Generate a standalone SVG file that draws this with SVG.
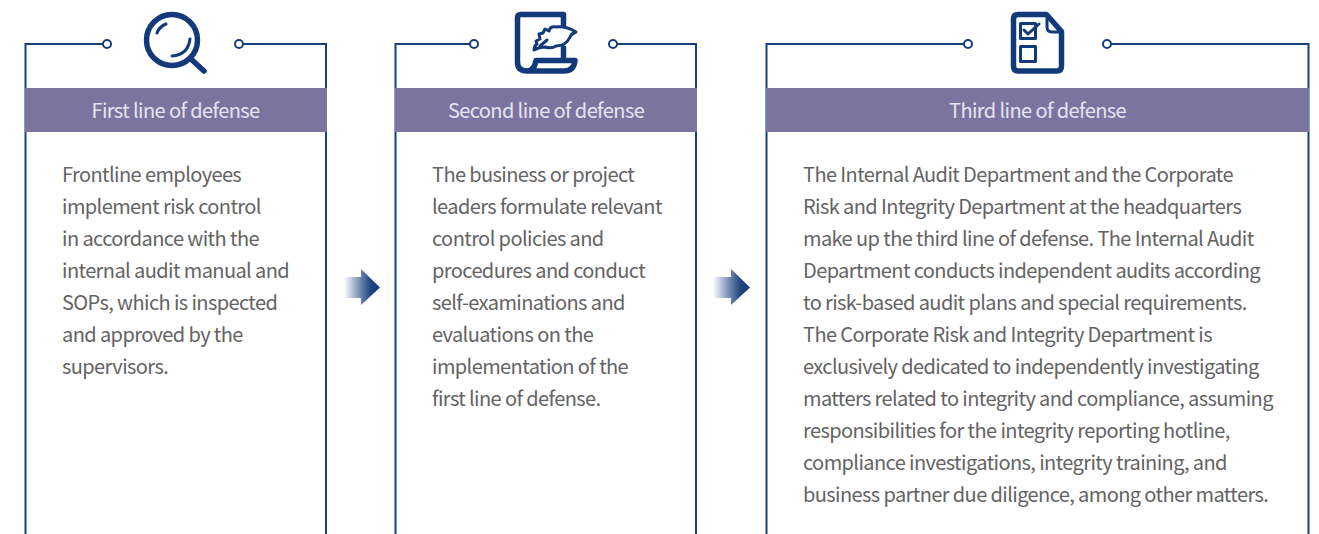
<svg xmlns="http://www.w3.org/2000/svg" width="1319" height="534" viewBox="0 0 1319 534">
<style>
.f{fill:none;stroke:#173e7c;stroke-width:2}
.d{fill:#fff;stroke:#173e7c;stroke-width:2}
.h{fill:#7b749f}
.ht{font:400 20px "Noto Sans CJK SC","Noto Sans",sans-serif;fill:#e6e4ef;text-anchor:middle;letter-spacing:-.6px}
.b{font:400 20px "Noto Sans CJK SC","Noto Sans",sans-serif;fill:#636363;letter-spacing:-.6px}
.i{fill:none;stroke:#123a7a;stroke-width:5.500;stroke-linecap:round;stroke-linejoin:round}
.i2{fill:none;stroke:#123a7a;stroke-width:3;stroke-linecap:round;stroke-linejoin:round}
</style>
<defs>
<linearGradient id="g" x1="0" x2="1" y1="0" y2="0"><stop offset="0" stop-color="#123a7a" stop-opacity="0"/><stop offset=".45" stop-color="#123a7a" stop-opacity=".6"/><stop offset=".75" stop-color="#123a7a" stop-opacity=".95"/><stop offset="1" stop-color="#123a7a"/></linearGradient>
</defs>
<g id="node-first">
<path class="f" d="M105 44H25.500V534M241 44H326V534"/>
<circle class="d" cx="107" cy="44" r="4"/><circle class="d" cx="239" cy="44" r="4"/>
<rect class="h" x="25" y="88" width="302" height="44"/>
<text class="ht" x="175.500" y="118">First line of defense</text>
<g class="icon">
<circle class="i" cx="172" cy="40" r="25.500"/>
<path class="i" d="M192 60L204 71"/>
<path class="i2" d="M157 33Q159 27 166 24M172 56Q188 55 190 39"/>
</g>
<text class="b" x="62" y="182">Frontline employees</text>
<text class="b" x="62" y="214">implement risk control</text>
<text class="b" x="62" y="246">in accordance with the</text>
<text class="b" x="62" y="278">internal audit manual and</text>
<text class="b" x="62" y="310">SOPs, which is inspected</text>
<text class="b" x="62" y="342">and approved by the</text>
<text class="b" x="62" y="374">supervisors.</text>
</g>
<g id="node-second">
<path class="f" d="M472 44H395.500V534M615 44H696V534"/>
<circle class="d" cx="474" cy="44" r="4"/><circle class="d" cx="613" cy="44" r="4"/>
<rect class="h" x="395" y="88" width="302" height="44"/>
<text class="ht" x="546" y="118">Second line of defense</text>
<g class="icon">
<path class="i" d="M563.500 31V14.500H521Q517.500 14.500 517.500 18V62Q517.500 71 527 71H564Q574 71 575 60.500H536Q534 71 527 71M563.500 48V60"/>
<path d="M534 50Q534 46 537 44L536 41L540 39L539 34L543 33L545 29L549 31Q550 26 556 27Q566 26 576 32Q571 34 570 37Q566 46 556 46Q552 49 545 47Q539 47 534 50Z" fill="#fff" stroke="#123a7a" stroke-width="3" stroke-linejoin="round"/>
<path class="i2" d="M540 46L547 40"/>
</g>
<text class="b" x="432" y="182">The business or project</text>
<text class="b" x="432" y="214">leaders formulate relevant</text>
<text class="b" x="432" y="246">control policies and</text>
<text class="b" x="432" y="278">procedures and conduct</text>
<text class="b" x="432" y="310">self-examinations and</text>
<text class="b" x="432" y="342">evaluations on the</text>
<text class="b" x="432" y="374">implementation of the</text>
<text class="b" x="432" y="406">first line of defense.</text>
</g>
<g id="node-third">
<path class="f" d="M966 44H766.500V534M1109 44H1308.500V534"/>
<circle class="d" cx="968" cy="44" r="4"/><circle class="d" cx="1107" cy="44" r="4"/>
<rect class="h" x="766" y="88" width="543" height="44"/>
<text class="ht" x="1037.500" y="118">Third line of defense</text>
<g class="icon">
<path class="i" d="M1046.500 14.500H1018Q1013.500 14.500 1013.500 19V66Q1013.500 71 1018 71H1057Q1061.500 71 1061.500 66V31.500Z"/>
<path class="i2" d="M1047 15V27Q1047 32 1052 32H1061"/>
<rect x="1020.500" y="23.500" width="15" height="15" class="i2"/>
<rect x="1020.500" y="46.500" width="15" height="15" class="i2"/>
<path class="i2" d="M1024 30L1028 34L1039 24"/>
</g>
<text class="b" x="803" y="182">The Internal Audit Department and the Corporate</text>
<text class="b" x="803" y="214">Risk and Integrity Department at the headquarters</text>
<text class="b" x="803" y="246">make up the third line of defense. The Internal Audit</text>
<text class="b" x="803" y="278">Department conducts independent audits according</text>
<text class="b" x="803" y="310">to risk-based audit plans and special requirements.</text>
<text class="b" x="803" y="342">The Corporate Risk and Integrity Department is</text>
<text class="b" x="803" y="374">exclusively dedicated to independently investigating</text>
<text class="b" x="803" y="406">matters related to integrity and compliance, assuming</text>
<text class="b" x="803" y="438">responsibilities for the integrity reporting hotline,</text>
<text class="b" x="803" y="470">compliance investigations, integrity training, and</text>
<text class="b" x="803" y="502">business partner due diligence, among other matters.</text>
</g>
<g id="connectors">
<path fill="url(#g)" d="M344 277H361V269L380 287.500L361 305V298H344Z"/>
<path fill="url(#g)" d="M713 277H731V269L750 287.500L731 305V298H713Z"/>
</g>
</svg>
